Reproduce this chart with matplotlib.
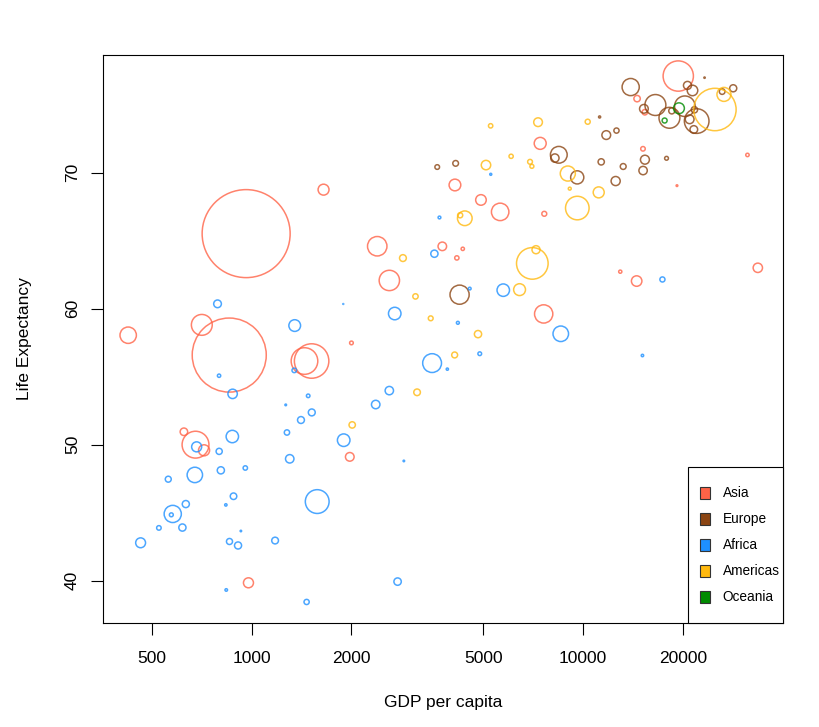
import numpy as np
import matplotlib
matplotlib.use("Agg")
import matplotlib.pyplot as plt
from matplotlib.patches import Rectangle

plt.rcParams['font.family'] = ['Liberation Sans', 'DejaVu Sans']

# gapminder, 1982: gdp per capita, life expectancy, population
asia_gdp = [978.0114, 19211.15, 676.9819, 624.4755, 962.4214, 14560.53, 855.7235, 1516.873,
            7608.335, 14517.91, 15367.03, 19384.11, 4161.416, 4106.525, 5622.942, 31354.04,
            7640.52, 4920.356, 2000.603, 424.0, 718.3731, 12954.79, 1443.429, 2603.274,
            33693.18, 15169.16, 1648.08, 3761.838, 7426.355, 2393.22, 707.2358, 4336.032, 1977.557]
asia_life = [39.854, 69.052, 50.009, 50.957, 65.525, 75.45, 56.596, 56.159,
             59.62, 62.038, 74.45, 77.11, 63.739, 69.1, 67.123, 71.309,
             66.983, 68.0, 57.489, 58.056, 49.594, 62.728, 56.158, 62.082,
             63.012, 71.76, 68.757, 64.59, 72.16, 64.597, 58.816, 64.406, 49.113]
asia_pop = [12881816, 377967, 93074406, 7272485, 1000281000, 5264500, 708000000, 153343000,
            43072751, 14173318, 3858421, 118454974, 2347031, 17647518, 39326000, 1497494,
            3086876, 14441916, 1756032, 34680442, 15796314, 1301048, 91462088, 53456774,
            11254672, 2651869, 15410151, 9410494, 18501390, 48827160, 56142181, 1425876, 9657618]

europe_gdp = [3630.881, 21597.08, 20979.85, 4126.613, 8224.192, 13221.82, 15377.23, 21688.04,
              18533.16, 20293.9, 22031.53, 15268.42, 12545.99, 23269.61, 12618.32, 16537.48,
              11222.59, 21399.46, 26298.64, 8451.531, 11753.84, 9605.314, 15181.09, 11348.55,
              17866.72, 13926.17, 20667.38, 28397.72, 4241.356, 18232.42]
europe_life = [70.42, 73.18, 73.93, 70.69, 71.08, 70.46, 70.96, 74.63,
               74.55, 74.89, 73.8, 74.7, 69.39, 76.99, 73.1, 74.98,
               74.101, 76.05, 75.97, 71.32, 72.77, 69.66, 70.162, 70.8,
               71.063, 76.3, 76.42, 76.21, 61.036, 74.04]
europe_pop = [2780097, 7574613, 9856303, 4172693, 8892098, 4413368, 10303704, 5117810,
              4826933, 54433565, 78335266, 9786480, 10705535, 233997, 3480000, 56535636,
              562548, 14310401, 4114787, 36227381, 9859650, 22356726, 9032824, 5048043,
              1861252, 37983310, 8325260, 6468126, 47328791, 56339704]

africa_gdp = [5745.16, 2756.954, 1277.898, 4551.142, 807.1986, 560.1581, 2367.983, 956.753,
              797.9081, 1267.1, 673.7478, 4879.508, 2602.71, 2879.468, 3503.73, 927.8253,
              524.8758, 577.8607, 15113.36, 835.8096, 876.0326, 857.2504, 838.124, 1348.776,
              797.2631, 572.1996, 17364.28, 1302.879, 632.8039, 618.0141, 1481.15, 3688.038,
              2702.62, 462.2115, 4191.101, 909.7221, 1576.974, 5267.219, 881.5706, 1890.218,
              1518.48, 1465.011, 1176.808, 8568.267, 1895.544, 3895.384, 874.2426, 1344.578,
              3560.233, 682.2662, 1408.679, 788.855]
africa_life = [61.368, 39.942, 50.904, 61.484, 48.122, 47.471, 52.961, 48.295,
               49.517, 52.933, 47.784, 56.695, 53.983, 48.812, 56.006, 43.662,
               43.89, 44.916, 56.564, 45.58, 53.744, 42.891, 39.327, 58.766,
               55.078, 44.852, 62.155, 48.969, 45.642, 43.916, 53.599, 66.711,
               59.65, 42.795, 58.968, 42.598, 45.826, 69.885, 46.218, 60.351,
               52.379, 38.445, 42.96, 58.161, 50.338, 55.561, 50.608, 55.471,
               64.048, 49.849, 51.821, 60.363]
africa_pop = [20033753, 7016384, 3641603, 970347, 6634596, 4580410, 9250831, 2476971,
              4875118, 348643, 30646495, 1774735, 9025951, 305991, 45681811, 285483,
              2637297, 38111756, 753874, 715523, 11400338, 4710497, 825987, 17661452,
              1411807, 1956875, 3344074, 9171477, 6502825, 6668356, 1622136, 992040,
              20198730, 12587223, 1099010, 6437188, 73039376, 517810, 5507565, 98593,
              6147783, 3464522, 5828892, 31140029, 20367053, 649901, 19844382, 2644765,
              6734098, 12939400, 6100407, 7636524]

americas_gdp = [8997.897, 3156.51, 7030.836, 26626.52, 5095.666, 4397.576, 5262.735, 7316.918,
                2861.092, 7213.791, 4098.344, 4820.495, 2011.159, 3121.761, 6068.051, 9611.148,
                3470.338, 7009.602, 4258.504, 6434.502, 10330.99, 9119.529, 25009.56, 6920.223,
                11152.41]
americas_life = [69.942, 53.859, 63.336, 75.76, 70.565, 66.653, 73.45, 73.717,
                 63.727, 64.342, 56.604, 58.137, 51.461, 60.909, 71.21, 67.405,
                 59.298, 70.472, 66.874, 61.406, 73.75, 68.832, 74.65, 70.805,
                 68.557]
americas_pop = [29341374, 5642224, 128962939, 25201900, 11487112, 27764644, 2424367, 9789224,
                5968349, 8365850, 4474873, 6750884, 5198399, 3669448, 2298309, 71640904,
                2979423, 2036305, 3366439, 18125129, 3279001, 1116479, 232187835, 2953997,
                15620766]

oceania_gdp = [19477.01, 17632.41]
oceania_life = [74.74, 73.84]
oceania_pop = [15184200, 3210650]

continents = ['Asia', 'Europe', 'Africa', 'Americas', 'Oceania']
colors = ['#FF6347', '#8B4513', '#1E90FF', '#FFB90F', '#008B00']
series = [(asia_gdp, asia_life, asia_pop),
          (europe_gdp, europe_life, europe_pop),
          (africa_gdp, africa_life, africa_pop),
          (americas_gdp, americas_life, americas_pop),
          (oceania_gdp, oceania_life, oceania_pop)]

W, H, DPI = 820, 727, 100
fig = plt.figure(figsize=(W / DPI, H / DPI), dpi=DPI)
ax = fig.add_axes([103 / W, 1 - 623 / H, 680 / W, 568 / H])

all_pop = np.concatenate([np.array(s[2], float) for s in series])
pop_max = all_pop.max()
r_max_px = 44.0  # radius of biggest bubble

for (gdp, life, pop), col in zip(series, colors):
    pop = np.array(pop, float)
    diam_pt = 2 * r_max_px * np.sqrt(pop / pop_max) * 72 / DPI
    ax.scatter(gdp, life, s=diam_pt ** 2, facecolors='none', edgecolors=col,
               linewidths=1.1, alpha=0.8, zorder=3)

# R-style 4% padding
all_gdp = np.log10(np.concatenate([np.array(s[0], float) for s in series]))
all_life = np.concatenate([np.array(s[1], float) for s in series])
gx = 0.04 * (all_gdp.max() - all_gdp.min())
gy = 0.04 * (all_life.max() - all_life.min())
ax.set_xscale('log')
ax.set_xlim(10 ** (all_gdp.min() - gx), 10 ** (all_gdp.max() + gx))
ax.set_ylim(all_life.min() - gy, all_life.max() + gy)

xt = [500, 1000, 2000, 5000, 10000, 20000]
ax.set_xticks(xt)
ax.set_xticklabels([str(v) for v in xt])
ax.xaxis.set_minor_locator(matplotlib.ticker.NullLocator())
ax.set_yticks([40, 50, 60, 70])
ax.tick_params(axis='both', direction='out', length=8.5, width=0.8, labelsize=12.5, colors='black')
ax.tick_params(axis='x', pad=12)
ax.tick_params(axis='y', pad=8)
for lab in ax.get_yticklabels():
    lab.set_rotation(90)
    lab.set_va('center')
for sp in ax.spines.values():
    sp.set_linewidth(0.8)

ax.set_xlabel('GDP per capita', fontsize=12.5, va='center')
ax.xaxis.set_label_coords(0.5, (623 - 703) / 568)
ax.set_ylabel('Life Expectancy', fontsize=12.5, va='center')
ax.yaxis.set_label_coords((25 - 103) / 680, 0.5)

# legend box, bottom right (drawn by hand like R's legend)
lx0 = (688 - 103) / 680
ly1 = (623 - 467) / 568
ax.add_patch(Rectangle((lx0, 0), 1 - lx0, ly1, transform=ax.transAxes, facecolor='white',
                       edgecolor='black', linewidth=0.8, zorder=5, clip_on=False))
sq_w = 10 / 680
sq_h = 12 / 568
for i, (name, col) in enumerate(zip(continents, colors)):
    yc = (623 - 493) / 568 - i * (26 / 568)
    ax.add_patch(Rectangle(((700.5 - 103) / 680, yc - sq_h / 2), sq_w, sq_h, transform=ax.transAxes,
                           facecolor=col, edgecolor='#333333', linewidth=0.8, zorder=6))
    ax.text((722.5 - 103) / 680, yc, name, transform=ax.transAxes, fontsize=9.8,
            va='center', ha='left', zorder=6)

fig.savefig('out.png', dpi=DPI)
